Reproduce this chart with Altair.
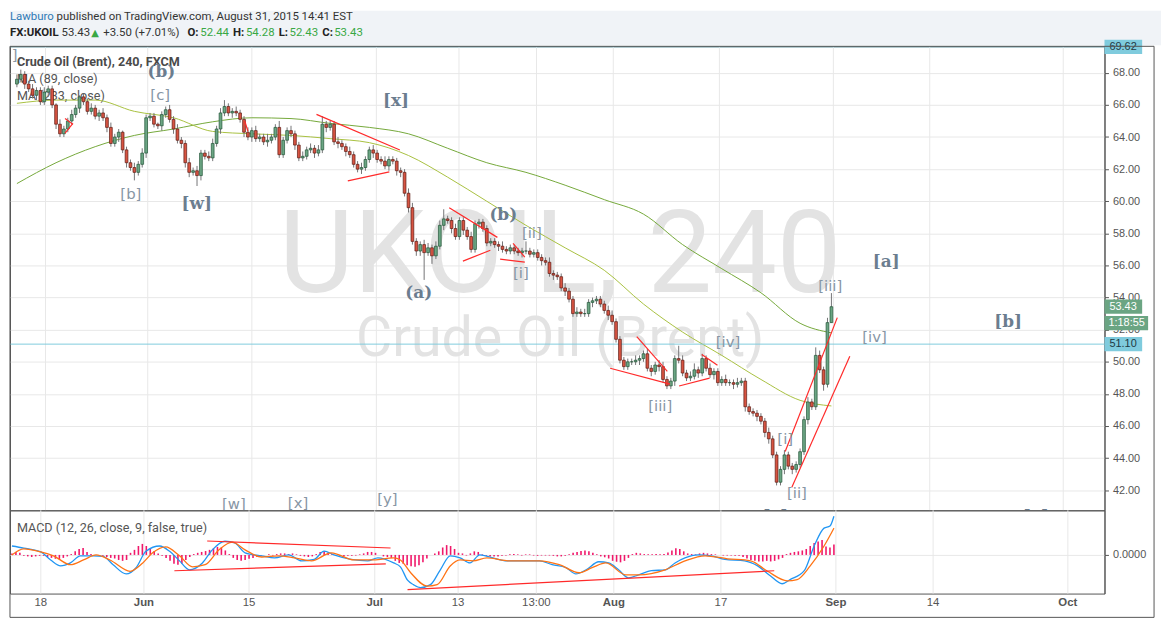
import altair as alt
import pandas as pd

# ----------------------------- data -----------------------------
first_open = 67.3
closes = [
    67.6, 67.9, 67.3, 67.0, 66.6, 66.9, 66.2, 66.8, 67.0, 66.0,
    64.8, 64.2, 64.5, 65.0, 65.4, 65.8, 66.5, 66.2, 65.6, 65.8,
    65.3, 65.5, 65.2, 64.6, 63.6, 64.0, 64.3, 63.2, 62.4, 62.1,
    61.8, 62.3, 63.0, 65.2, 65.3, 64.8, 64.7, 65.4, 65.7, 65.1,
    64.5, 63.8, 63.6, 62.4, 61.8, 61.9, 61.6, 63.0, 62.8, 62.7,
    63.6, 64.5, 65.5, 65.9, 65.5, 65.6, 65.5, 65.1, 64.3, 64.0,
    64.4, 63.9, 64.0, 63.7, 63.8, 64.0, 64.6, 62.9, 63.8, 64.4,
    64.2, 63.5, 62.7, 62.8, 63.2, 63.3, 63.0, 63.2, 64.8, 64.6,
    64.8, 63.7, 63.6, 63.4, 63.1, 62.9, 62.3, 62.0, 62.1, 62.6,
    63.2, 63.0, 62.6, 62.5, 62.2, 62.6, 62.5, 61.9, 61.8, 60.5,
    59.6, 57.5, 56.9, 57.3, 56.8, 57.1, 56.6, 57.2, 58.5, 58.9,
    58.8, 58.3, 57.8, 58.8, 58.2, 57.8, 57.0, 58.6, 58.7, 58.3,
    57.4, 57.5, 57.3, 57.2, 57.0, 56.9, 57.1, 56.9, 56.8, 56.9,
    56.9, 56.7, 56.8, 56.5, 56.3, 56.2, 55.5, 55.4, 55.3, 54.6,
    54.4, 53.9, 53.0, 53.1, 53.0, 53.0, 53.7, 53.8, 53.9, 53.6,
    53.2, 52.9, 52.5, 51.4, 50.1, 49.7, 50.0, 50.0, 50.1, 50.2,
    50.5, 49.6, 49.4, 49.8, 49.7, 48.9, 48.5, 48.8, 50.2, 50.1,
    49.3, 49.0, 49.1, 49.5, 49.3, 50.2, 49.6, 49.2, 49.4, 48.7,
    48.9, 48.7, 48.7, 48.6, 48.7, 48.8, 47.2, 46.9, 46.8, 46.6,
    46.3, 45.6, 45.2, 44.2, 42.5, 43.3, 44.2, 43.5, 43.3, 43.6,
    44.4, 46.4, 47.5, 47.2, 50.4, 49.5, 48.6, 52.44, 53.43,
]
wick_up = [
    0.3, 0.3, 0.2, 0.2, 0.3, 0.2, 0.2, 0.3, 0.2, 0.2,
    0.1, 0.3, 0.2, 0.2, 0.3, 0.2, 0.1, 0.2, 0.2, 0.3,
    0.2, 0.2, 0.3, 0.2, 0.3, 0.2, 0.2, 0.1, 0.2, 0.2,
    0.3, 0.2, 0.3, 0.2, 0.2, 0.2, 0.1, 0.2, 0.2, 0.3,
    0.2, 0.3, 0.2, 0.2, 0.3, 0.2, 0.3, 0.2, 0.2, 0.3,
    0.3, 0.2, 0.3, 0.4, 0.2, 0.2, 0.3, 0.2, 0.2, 0.3,
    0.2, 0.3, 0.2, 0.2, 0.4, 0.2, 0.2, 0.4, 0.2, 0.2,
    0.3, 0.2, 0.2, 0.3, 0.2, 0.3, 0.2, 0.3, 0.5, 0.2,
    0.2, 0.2, 0.3, 0.2, 0.2, 0.3, 0.2, 0.2, 0.3, 0.2,
    0.2, 0.3, 0.2, 0.2, 0.3, 0.2, 0.2, 0.2, 0.2, 0.2,
    0.3, 0.3, 0.2, 0.2, 0.3, 0.3, 0.2, 0.3, 0.3, 0.6,
    0.2, 0.2, 0.3, 0.2, 0.2, 0.2, 0.3, 0.2, 0.2, 0.2,
    0.2, 0.2, 0.2, 0.2, 0.3, 0.2, 0.2, 0.2, 0.2, 0.2,
    0.6, 0.2, 0.2, 0.2, 0.2, 0.2, 0.3, 0.2, 0.2, 0.2,
    0.3, 0.2, 0.2, 0.3, 0.2, 0.3, 0.2, 0.2, 0.2, 0.2,
    0.2, 0.3, 0.3, 0.2, 0.2, 0.2, 0.2, 0.2, 0.3, 0.2,
    0.2, 0.3, 0.2, 0.2, 0.3, 0.3, 0.2, 0.2, 0.2, 0.8,
    0.3, 0.2, 0.3, 0.4, 0.2, 0.3, 0.2, 0.3, 0.2, 0.2,
    0.2, 0.3, 0.2, 0.2, 0.3, 0.2, 0.2, 0.2, 0.2, 0.2,
    0.2, 0.2, 0.3, 0.2, 0.2, 0.2, 0.3, 0.2, 0.2, 0.2,
    0.2, 0.2, 0.3, 0.2, 0.5, 0.3, 0.2, 0.3, 0.85,
]
wick_dn = [
    0.2, 0.2, 0.3, 0.2, 0.2, 0.3, 0.2, 0.2, 0.3, 0.2,
    0.3, 0.2, 0.2, 0.2, 0.2, 0.2, 0.3, 0.2, 0.2, 0.2,
    0.2, 0.3, 0.2, 0.3, 0.2, 0.2, 0.3, 0.2, 0.3, 0.2,
    0.5, 0.2, 0.2, 0.3, 0.2, 0.2, 0.2, 0.3, 0.2, 0.2,
    0.3, 0.2, 0.3, 0.3, 0.3, 0.2, 0.65, 0.3, 0.2, 0.2,
    0.2, 0.2, 0.3, 0.2, 0.2, 0.3, 0.2, 0.2, 0.3, 0.2,
    0.3, 0.2, 0.2, 0.2, 0.3, 0.2, 0.2, 0.2, 0.2, 0.2,
    0.2, 0.3, 0.2, 0.2, 0.2, 0.2, 0.3, 0.2, 0.2, 0.3,
    0.2, 0.2, 0.3, 0.2, 0.3, 0.2, 0.2, 0.2, 0.3, 0.2,
    0.2, 0.3, 0.2, 0.2, 0.2, 0.3, 0.2, 0.3, 0.3, 0.2,
    0.3, 0.2, 0.3, 0.3, 1.7, 0.2, 0.5, 0.2, 0.2, 0.3,
    0.2, 0.3, 0.2, 0.2, 0.3, 0.2, 0.2, 0.2, 0.3, 0.2,
    0.2, 0.2, 0.2, 0.3, 0.2, 0.2, 0.2, 0.2, 0.2, 0.3,
    0.2, 0.2, 0.2, 0.2, 0.3, 0.2, 0.2, 0.3, 0.2, 0.2,
    0.3, 0.2, 0.2, 0.2, 0.2, 0.2, 0.2, 0.3, 0.2, 0.2,
    0.2, 0.3, 0.2, 0.2, 0.2, 0.2, 0.2, 0.2, 0.2, 0.3,
    0.2, 0.2, 0.3, 0.2, 0.3, 0.2, 0.2, 0.2, 0.3, 0.2,
    0.2, 0.2, 0.2, 0.2, 0.3, 0.2, 0.2, 0.2, 0.3, 0.2,
    0.2, 0.2, 0.2, 0.3, 0.2, 0.2, 0.3, 0.2, 0.2, 0.3,
    0.2, 0.3, 0.3, 0.2, 0.2, 0.2, 0.3, 0.2, 0.3, 0.2,
    0.2, 0.2, 0.3, 0.2, 0.2, 0.2, 0.4, 0.2, 0.01,
]

ma_idx = [0, 10, 20, 30, 40, 50, 60, 70, 80, 90, 100, 110, 120, 130, 140, 150, 160, 170, 180, 190, 200, 208]
ma89 = [66.1, 66.3, 66.3, 65.6, 65.2, 64.35, 64.2, 64.1, 63.9, 63.65, 62.85, 61.5, 60.0, 58.5, 57.1, 55.7,
        53.6, 51.85, 50.4, 48.9, 47.6, 47.25]
ma233 = [61.1, 62.4, 63.4, 64.1, 64.5, 64.95, 65.2, 65.15, 64.85, 64.6, 64.2, 63.3, 62.4, 61.8, 61.0, 60.1,
         59.2, 57.3, 55.8, 54.3, 52.4, 51.8]

macd_idx = [0, 3, 7.3, 9.8, 12.3, 14.8, 17.3, 20.6, 23.1, 25.6, 28.9, 31.4, 33.9, 37.4, 39.9, 42.4, 44.9,
            48.2, 50.7, 53.9, 56.4, 59, 63.2, 66.5, 70, 73.3, 76.5, 79, 81.5, 85.8, 90, 92.6, 96.6, 98.3,
            100.1, 101.6, 103.4, 105.9, 108.4, 110.9, 113.4, 115.9, 118.4, 121.7, 125.2, 130.2, 133.5,
            136.7, 140.2, 142.7, 145.3, 148.5, 151, 153.5, 156, 158.6, 161.8, 165.3, 167.8, 170.3, 173.6,
            176.9, 180.4, 185.4, 188.7, 191.9, 194.9, 196.9, 200.5, 203, 205.5, 207, 208]
macd_val = [0.3, 0.23, 0.1, -0.17, -0.37, -0.27, -0.03, -0.03, -0.05, -0.33, -0.64, -0.43, 0.12, 0.3, 0.12,
            -0.2, -0.5, -0.27, 0.17, 0.46, 0.4, 0.07, -0.03, -0.1, 0.0, -0.2, -0.15, 0.13, 0.0, -0.15, -0.2,
            -0.1, -0.27, -0.4, -0.85, -1.0, -1.1, -1.0, -0.5, -0.03, -0.1, -0.27, 0.0, -0.1, -0.2, -0.2,
            -0.2, -0.33, -0.43, -0.64, -0.5, -0.23, -0.27, -0.5, -0.77, -0.67, -0.53, -0.5, -0.27, -0.1,
            0.0, -0.03, -0.15, -0.2, -0.37, -0.7, -0.97, -0.83, -0.53, 0.3, 0.9, 0.97, 1.3]
sig_idx = [0, 3, 7.3, 10.5, 14.8, 18.1, 21.3, 24.8, 29.9, 33.1, 35.6, 38.9, 42.4, 45.7, 48.9, 52.4, 55.7,
           59, 63.2, 67.5, 71.5, 75.8, 80.8, 86.6, 91.6, 96.6, 98.3, 100.9, 105.1, 107.6, 110.9, 113.4,
           116.7, 120.2, 125.9, 133.5, 138.5, 143.5, 146.8, 150.3, 155.3, 158.6, 165.3, 170.3, 175.4,
           181.1, 186.9, 191.2, 196.2, 198.7, 202, 205.5, 208]
sig_val = [0.0, 0.2, 0.1, -0.03, -0.33, -0.17, 0.0, -0.17, -0.55, -0.27, 0.07, 0.27, -0.03, -0.4, -0.33,
           0.17, 0.43, 0.17, -0.07, -0.03, -0.1, -0.2, 0.07, -0.17, -0.17, -0.1, -0.17, -0.6, -1.05, -1.0,
           -0.37, -0.17, -0.2, -0.1, -0.2, -0.2, -0.33, -0.6, -0.43, -0.27, -0.67, -0.67, -0.5, -0.2,
           -0.03, -0.13, -0.2, -0.55, -0.87, -0.83, -0.37, 0.3, 0.9]
hist = [
    0.05, 0.1, 0.07, -0.03, -0.05, -0.07, -0.05, -0.03, -0.03, -0.07,
    -0.1, -0.13, -0.15, -0.1, -0.05, 0.03, 0.12, 0.2, 0.23, 0.1,
    0.03, 0.0, -0.02, -0.03, -0.07, -0.1, -0.12, -0.17, -0.2, -0.17,
    0.07, 0.17, 0.3, 0.37, 0.3, 0.2, 0.13, 0.05, -0.03, -0.1,
    -0.2, -0.3, -0.33, -0.3, -0.17, -0.07, 0.03, 0.07, 0.1, 0.13,
    0.17, 0.22, 0.27, 0.25, 0.15, 0.03, -0.1, -0.17, -0.2, -0.17,
    -0.13, -0.1, -0.07, -0.03, 0.0, 0.02, -0.02, 0.03, 0.05, 0.05,
    0.03, 0.05, 0.02, -0.03, -0.05, -0.07, -0.05, 0.03, 0.1, 0.12,
    0.08, 0.03, -0.02, -0.03, -0.05, -0.03, -0.03, -0.02, 0.02, 0.05,
    0.1, 0.1, 0.07, 0.0, -0.05, -0.07, -0.1, -0.2, -0.27, -0.3,
    -0.35, -0.38, -0.4, -0.35, -0.25, -0.12, 0.0, 0.05, 0.12, 0.25,
    0.33, 0.3, 0.2, 0.07, 0.05, -0.02, 0.05, 0.12, 0.1, 0.02,
    -0.03, -0.05, -0.05, -0.05, -0.03, -0.02, 0.02, 0.03, 0.02, -0.02,
    0.02, 0.02, -0.02, -0.03, -0.02, -0.02, -0.02, -0.03, -0.05, -0.05,
    -0.03, 0.02, 0.07, 0.1, 0.13, 0.15, 0.12, 0.07, 0.02, -0.05,
    -0.08, -0.12, -0.2, -0.23, -0.25, -0.2, -0.1, 0.03, 0.07, 0.05,
    0.03, 0.02, 0.02, 0.03, 0.02, 0.03, 0.08, 0.15, 0.22, 0.2,
    0.12, 0.05, 0.03, 0.02, 0.05, 0.07, 0.05, 0.03, 0.02, 0.0,
    -0.02, -0.02, -0.02, -0.03, -0.03, -0.07, -0.12, -0.17, -0.2, -0.22,
    -0.22, -0.2, -0.22, -0.2, -0.15, -0.1, 0.03, 0.07, 0.1, 0.12,
    0.15, 0.2, 0.3, 0.4, 0.45, 0.5, 0.28, 0.25, 0.35,
]

# red trend lines on price (bar index, price)
tl_x1 = [76.5, 84.5, 110.4, 113.9, 126.7, 123.4, 12.3, 12.3, 58.2, 158.3, 151.5, 169.1, 174.9, 196.2, 197.9]
tl_p1 = [65.41, 61.27, 59.60, 56.27, 57.38, 56.39, 65.16, 64.24, 64.98, 51.57, 49.60, 48.49, 50.46, 44.41, 42.19]
tl_x2 = [97.8, 95.1, 122.7, 120.9, 129.7, 129.7, 14.3, 14.3, 59.0, 166.1, 166.8, 176.9, 178.9, 209.5, 212.7]
tl_p2 = [63.19, 61.83, 57.75, 56.95, 56.52, 56.21, 64.79, 64.85, 64.36, 49.41, 48.61, 48.98, 49.78, 52.75, 50.34]
# red trend lines on MACD
mtl_x1 = [49.4, 41.1, 100.1]
mtl_v1 = [0.467, -0.533, -1.167]
mtl_x2 = [95.8, 94.6, 192.9]
mtl_v2 = [0.233, -0.30, -0.533]

# wave labels
bold_text = ["(b)", "[w]", "[x]", "(b)", "(a)", "[a]", "[b]", "[v]", "[c]"]
bold_idx = [36.9, 45.9, 96.8, 124.2, 102.6, 222.0, 253.1, 193.7, 260.2]
bold_price = [68.07, 59.85, 66.27, 59.11, 54.29, 56.2, 52.5, 40.3, 40.3]
reg_text = ["[c]", "[b]", "[ii]", "[i]", "[iii]", "[iv]", "[iv]", "[iii]", "[i]", "[ii]", "[w]", "[x]", "[y]", "[a]"]
reg_idx = [36.6, 29.1, 131.5, 128.7, 207.7, 219.0, 181.6, 164.3, 196.2, 199.2, 55.4, 71.8, 94.6, -2.5]
reg_price = [66.64, 60.47, 58.0, 55.53, 54.72, 51.57, 51.2, 47.25, 45.2, 41.83, 41.14, 41.2, 41.44, 69.1]

price_ticks = [42, 44, 46, 48, 50, 52, 54, 56, 58, 60, 62, 64, 66, 68]
date_labels = ["18", "Jun", "15", "Jul", "13", "13:00", "Aug", "17", "Sep", "14", "Oct"]
date_idx = [7.3, 33.4, 60.0, 91.8, 112.9, 132.7, 152.3, 179.4, 208.5, 233.1, 267.2]
month_labels = ["Jun", "Jul", "Aug", "Sep", "Oct"]

high_line = 69.62
hline = 51.10
countdown = "1:18:55"
symbol = "FX:UKOIL"
change_txt = "+3.50 (+7.01%)"

# ----------------------------- tables -----------------------------
opens = [first_open] + closes[:-1]
candles = pd.DataFrame({
    "i": list(range(len(closes))),
    "o": opens,
    "c": closes,
    "h": [max(o, c) + u for o, c, u in zip(opens, closes, wick_up)],
    "l": [min(o, c) - d for o, c, d in zip(opens, closes, wick_dn)],
})
last = candles.iloc[-1]
ma_df = pd.DataFrame({"i": ma_idx, "ma89": ma89, "ma233": ma233})
macd_df = pd.DataFrame({"i": macd_idx, "v": macd_val})
sig_df = pd.DataFrame({"i": sig_idx, "v": sig_val})
hist_df = pd.DataFrame({"i": list(range(len(hist))), "v": hist, "z": [0.0] * len(hist)})
tl_df = pd.DataFrame({"x1": tl_x1, "p1": tl_p1, "x2": tl_x2, "p2": tl_p2})
mtl_df = pd.DataFrame({"x1": mtl_x1, "v1": mtl_v1, "x2": mtl_x2, "v2": mtl_v2})
bold_df = pd.DataFrame({"t": bold_text, "i": bold_idx, "p": bold_price})
reg_df = pd.DataFrame({"t": reg_text, "i": reg_idx, "p": reg_price})
dates_df = pd.DataFrame({"t": date_labels, "i": date_idx})
dates_df["bold"] = dates_df["t"].isin(month_labels)
one = pd.DataFrame({"k": [0]})

# ----------------------------- layout / style -----------------------------
W = 1104
H_HEAD = 36
H_MAIN = 468
H_MACD = 84
PX_PER_BAR = 3.986
X0 = -0.5
X1 = X0 + W / PX_PER_BAR
Y0, Y1 = 40.75, 69.65
PPU = H_MAIN / (Y1 - Y0)          # pixels per price unit
xsc = alt.Scale(domain=[X0, X1], nice=False, zero=False)
ysc = alt.Scale(domain=[Y0, Y1], nice=False, zero=False)
msc = alt.Scale(domain=[-1.3, 1.5], nice=False, zero=False)

AX = "#555555"
GRID = "#e8e8e8"
UI = "Roboto"
UP, DN, UPB, DNB, WICK = "#6ba583", "#d75442", "#225437", "#5b1a13", "#737375"
CYAN, GREEN = "#7fcbdd", "#6ba583"
RED = "#ff2a2a"

yaxis = alt.Axis(orient="right", values=price_ticks, format=".2f", grid=True, gridColor=GRID,
                 domainColor=AX, tickColor=AX, tickSize=4, labelColor=AX, labelFont="Liberation Sans",
                 labelFontSize=11, labelPadding=4, title=None)
maxis = alt.Axis(orient="right", values=[0], format=".4f", grid=True, gridColor=GRID,
                 domainColor=AX, tickColor=AX, tickSize=4, labelColor=AX, labelFont="Liberation Sans",
                 labelFontSize=11, labelPadding=4, title=None)


def X(f):
    return alt.X(f, type="quantitative", scale=xsc, axis=None, title=None)


def Y(f):
    return alt.Y(f, type="quantitative", scale=ysc, axis=yaxis, title=None)


def M(f):
    return alt.Y(f, type="quantitative", scale=msc, axis=maxis, title=None)


def txt(text, x, y, size=12.5, color=AX, weight="normal", font=UI, align="left", baseline="middle"):
    return alt.Chart(one).mark_text(text=text, align=align, baseline=baseline, fontSize=size,
                                    fontWeight=weight, font=font, color=color).encode(
        x=alt.value(x), y=alt.value(y))


# ----------------------------- header -----------------------------
GRN_T = "#39a845"
HS = 11.5
hdr = [
    alt.Chart(one).mark_rect(color="#f0f3f7").encode(
        x=alt.value(0), x2=alt.value(1161), y=alt.value(0), y2=alt.value(H_HEAD - 1)),
    txt("Lawburo", 0, 6.5, HS, "#2f79b5"),
    txt("published on TradingView.com, August 31, 2015 14:41 EST", 47, 6.5, HS, "#333333"),
    txt(symbol, 0, 22.5, HS, "#222222", "bold"),
    txt(f"{last.c:.2f}", 52, 22.5, HS, "#333333"),
    txt("\u25B2", 82, 22.5, 10, GRN_T, font="DejaVu Sans"),
    txt(change_txt, 94, 22.5, HS, "#333333"),
    txt("O:", 179, 22.5, HS, "#222222", "bold"),
    txt(f"{last.o:.2f}", 192, 22.5, HS, GRN_T),
    txt("H:", 225, 22.5, HS, "#222222", "bold"),
    txt(f"{last.h:.2f}", 238, 22.5, HS, GRN_T),
    txt("L:", 271, 22.5, HS, "#222222", "bold"),
    txt(f"{last.l:.2f}", 282, 22.5, HS, GRN_T),
    txt("C:", 315, 22.5, HS, "#222222", "bold"),
    txt(f"{last.c:.2f}", 327, 22.5, HS, GRN_T),
]
header = alt.layer(*hdr).properties(width=W, height=H_HEAD, view=alt.ViewBackground(stroke=None))

# ----------------------------- main price panel -----------------------------
base = alt.Chart(candles)
frame = alt.Chart(one).mark_rect(fillOpacity=0, stroke=AX, strokeWidth=1).encode(
    x=alt.value(0), x2=alt.value(W + 50), y=alt.value(0), y2=alt.value(H_MAIN + H_MACD + 24))
vgrid = alt.Chart(dates_df).mark_rule(color=GRID, strokeWidth=1).encode(x=X("i"))
wm1 = txt("UKOIL, 240", 555, 248, 116, "#e3e3e3", font=UI, align="center", baseline="alphabetic")
wm2 = txt("Crude Oil (Brent)", 555, 312, 56, "#e3e3e3", font=UI, align="center", baseline="alphabetic")
leg1 = txt("Crude Oil (Brent), 240, FXCM", 7, 16, 12.7, "#4a4a4a", "bold")
leg2 = txt("MA (89, close)", 7, 33, 12.7, "#555555")
leg3 = txt("MA (233, close)", 7, 50, 12.7, "#555555")
ma_a = alt.Chart(ma_df).mark_line(color="#a8c040", strokeWidth=1, interpolate="monotone").encode(
    x=X("i"), y=Y("ma89"))
ma_b = alt.Chart(ma_df).mark_line(color="#74a83a", strokeWidth=1, interpolate="monotone").encode(
    x=X("i"), y=Y("ma233"))
hl = alt.Chart(pd.DataFrame({"p": [hline, high_line]})).mark_rule(color=CYAN, strokeWidth=1).encode(
    y=Y("p"))
wick = base.mark_rule(color=WICK, strokeWidth=1).encode(x=X("i"), y=Y("l"), y2="h:Q")
body = base.mark_bar(width=2.8, strokeWidth=0.7).encode(
    x=X("i"), y=Y("o"), y2="c:Q",
    color=alt.condition("datum.c >= datum.o", alt.value(UP), alt.value(DN)),
    stroke=alt.condition("datum.c >= datum.o", alt.value(UPB), alt.value(DNB)))
tls = alt.Chart(tl_df).mark_rule(color=RED, strokeWidth=1.2).encode(
    x=X("x1"), y=Y("p1"), x2="x2:Q", y2="p2:Q")
lab_b = alt.Chart(bold_df).mark_text(font="DejaVu Serif", fontWeight="bold", fontSize=17,
                                     color="#6b7d8f", clip=True).encode(x=X("i"), y=Y("p"), text="t:N")
lab_r = alt.Chart(reg_df).mark_text(font="DejaVu Sans", fontSize=15, color="#8796a5",
                                    clip=True).encode(x=X("i"), y=Y("p"), text="t:N")

half = 7.2 / PPU          # half box height in price units
step = 16.5 / PPU         # countdown box sits one box below the last price
cyan_boxes = pd.DataFrame({"p": [high_line, hline]})
green_box = pd.DataFrame({"p": [float(last.c)]})
box_c = alt.Chart(cyan_boxes).transform_calculate(
    t=f"datum.p + {half}", b=f"datum.p - {half}").mark_rect(color=CYAN).encode(
    x=alt.value(W), x2=alt.value(W + 38), y=Y("t"), y2="b:Q")
box_ct = alt.Chart(cyan_boxes).mark_text(align="left", font="Liberation Sans", fontSize=11,
                                         color="#1e3a44").encode(
    x=alt.value(W + 5), y=Y("p"), text=alt.Text("p:Q", format=".2f"))
box_g = alt.Chart(green_box).transform_calculate(
    t=f"datum.p + {half}", b=f"datum.p - {half}").mark_rect(color=GREEN).encode(
    x=alt.value(W), x2=alt.value(W + 38), y=Y("t"), y2="b:Q")
box_gt = alt.Chart(green_box).mark_text(align="left", font="Liberation Sans", fontSize=11,
                                        color="white").encode(
    x=alt.value(W + 5), y=Y("p"), text=alt.Text("p:Q", format=".2f"))
box_g2 = alt.Chart(green_box).transform_calculate(
    t=f"datum.p - {step} + {half}", b=f"datum.p - {step} - {half}", m=f"datum.p - {step}").mark_rect(
    color=GREEN).encode(x=alt.value(W), x2=alt.value(W + 44), y=Y("t"), y2="b:Q")
box_gt2 = alt.Chart(green_box).transform_calculate(m=f"datum.p - {step}").mark_text(
    align="left", font="Liberation Sans", fontSize=11, color="white", text=countdown).encode(
    x=alt.value(W + 4), y=Y("m"))

main = alt.layer(vgrid, wm1, wm2, leg1, leg2, leg3, ma_b, ma_a, hl, wick, body, tls, lab_r, lab_b,
                 box_c, box_ct, box_g, box_gt, box_g2, box_gt2, frame).properties(width=W, height=H_MAIN)

# ----------------------------- MACD panel -----------------------------
mgrid = alt.Chart(dates_df).mark_rule(color=GRID, strokeWidth=1).encode(x=X("i"))
hbar = alt.Chart(hist_df).mark_rule(color="#f0186a", strokeWidth=1.6).encode(
    x=X("i"), y=M("v"), y2="z:Q")
mline = alt.Chart(macd_df).mark_line(color="#2196f3", strokeWidth=1.3, interpolate="monotone").encode(
    x=X("i"), y=M("v"))
sline = alt.Chart(sig_df).mark_line(color="#ff7314", strokeWidth=1.3, interpolate="monotone").encode(
    x=X("i"), y=M("v"))
mtls = alt.Chart(mtl_df).mark_rule(color=RED, strokeWidth=1.2).encode(
    x=X("x1"), y=M("v1"), x2="x2:Q", y2="v2:Q")
mleg = txt("MACD (12, 26, close, 9, false, true)", 7, 18, 12.7, "#555555")
xl_n = alt.Chart(dates_df).transform_filter("!datum.bold").mark_text(
    font="Liberation Sans", fontSize=11.5, color=AX, baseline="middle").encode(
    x=X("i"), y=alt.value(H_MACD + 10), text="t:N")
xl_b = alt.Chart(dates_df).transform_filter("datum.bold").mark_text(
    font="Liberation Sans", fontSize=11.5, fontWeight="bold", color=AX, baseline="middle").encode(
    x=X("i"), y=alt.value(H_MACD + 10), text="t:N")

macd = alt.layer(mgrid, hbar, mline, sline, mtls, mleg, xl_n, xl_b).properties(width=W, height=H_MACD)

chart = alt.vconcat(header, main, macd, spacing=0, bounds="flush").properties(
    padding={"left": 0, "top": 0, "right": 0, "bottom": 0}
).configure_view(stroke=AX, strokeWidth=1)

chart.save("out.html", embed_options={"renderer": "svg", "actions": False})
